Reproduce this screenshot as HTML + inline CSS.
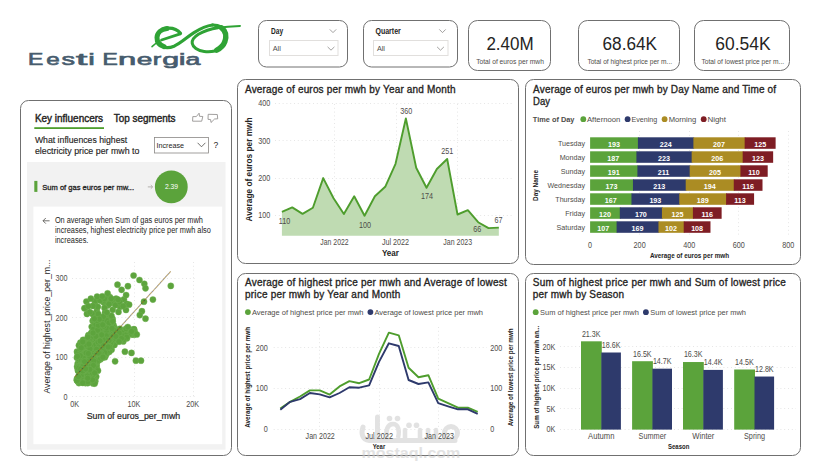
<!DOCTYPE html>
<html><head><meta charset="utf-8"><title>Eesti Energia Dashboard</title>
<style>
html,body{margin:0;padding:0;background:#fff;}
body{width:821px;height:470px;overflow:hidden;position:relative;font-family:"Liberation Sans",sans-serif;}
svg{position:absolute;left:0;top:0;display:block;font-family:"Liberation Sans",sans-serif;}
</style></head>
<body>
<svg width="821" height="470" viewBox="0 0 821 470">
<g fill="#475c6e" stroke="#475c6e" stroke-width="0.65">
<text transform="translate(28.09,64.7) scale(1.466,1)" x="0" y="0" font-size="15.6">E</text>
<text transform="translate(46.13,64.7) scale(1.424,1)" x="0" y="0" font-size="17.0">e</text>
<text transform="translate(61.61,64.7) scale(1.590,1)" x="0" y="0" font-size="17.0">s</text>
<text transform="translate(76.11,64.7) scale(2.390,1)" x="0" y="0" font-size="17.0">t</text>
<text transform="translate(88.20,64.7) scale(1.739,1)" x="0" y="0" font-size="17.0">i</text>
<text transform="translate(102.59,64.7) scale(1.466,1)" x="0" y="0" font-size="15.6">E</text>
<text transform="translate(118.08,64.7) scale(1.932,1)" x="0" y="0" font-size="17.0">n</text>
<text transform="translate(136.86,64.7) scale(1.652,1)" x="0" y="0" font-size="17.0">e</text>
<text transform="translate(152.67,64.7) scale(1.496,1)" x="0" y="0" font-size="17.0">r</text>
<text transform="translate(162.31,64.7) scale(1.786,1)" x="0" y="0" font-size="17.0">g</text>
<text transform="translate(178.83,64.7) scale(1.804,1)" x="0" y="0" font-size="17.0">i</text>
<text transform="translate(185.41,64.7) scale(1.576,1)" x="0" y="0" font-size="17.0">a</text>
</g>
<g fill="none" stroke="#2fa335" stroke-linecap="round" stroke-linejoin="round">
<path d="M167,28.6 C161,29.2 157.2,33 157,37.5 C156.9,41.8 159.5,45.2 164,46.6" stroke-width="5"/>
<path d="M165,28.4 C171.5,27.4 177.5,29.6 180.4,33.4" stroke-width="3.4"/>
<path d="M161.5,40 L180.2,33.8" stroke-width="2.8"/>
<path d="M160.5,45.2 C164,48 169,48.2 174,46.2 C181,43.2 187,37 194,32.6 C200,28.8 206,25.8 212.5,25" stroke-width="3.2"/>
<path d="M152,46.6 C154,44.6 156.5,42.8 159.8,41.2" stroke-width="1.5"/>
<path d="M212.3,25 C218.5,24.8 223.5,27.5 225.4,32 C227.3,37.5 225.2,44.2 220.2,48.2 C216.2,51.2 210.2,52.2 204.2,51.5 C197.4,50.7 192.8,47.2 192.2,43.2 C191.7,39.7 194.4,36.7 198.4,34.2 C204.4,30.8 211.2,28.8 218,27.7" stroke-width="3"/>
<path d="M221.6,27.8 C225.8,31 226.6,36.4 224.8,41.8 C223.4,45.6 220.8,48.1 216.8,50.1" stroke-width="5.4"/>
<path d="M217,27.8 C224,26.9 231,26.3 240,25.9" stroke-width="2"/>
</g>
<rect x="258.5" y="20.5" width="89" height="46.5" rx="8" ry="8" fill="#fff" stroke="#707070" stroke-width="1"/>
<text x="271.10" y="34.10" font-size="8.2" font-weight="bold" textLength="12.10" lengthAdjust="spacingAndGlyphs" fill="#252423">Day</text>
<polyline points="329.8,29.4 333.0,32.6 336.2,29.4" fill="none" stroke="#8a8886" stroke-width="0.8"/>
<rect x="269.5" y="40.5" width="68.5" height="15" fill="#fff" stroke="#e1dfdd" stroke-width="1"/>
<text x="272.70" y="51.30" font-size="7.5" textLength="8.10" lengthAdjust="spacingAndGlyphs" fill="#4e4c49">All</text>
<polyline points="327.6,46.9 331.0,50.2 334.4,46.9" fill="none" stroke="#8a8886" stroke-width="0.8"/>
<rect x="363.5" y="20.5" width="94" height="46.5" rx="8" ry="8" fill="#fff" stroke="#707070" stroke-width="1"/>
<text x="375.50" y="34.10" font-size="8.2" font-weight="bold" textLength="25.30" lengthAdjust="spacingAndGlyphs" fill="#252423">Quarter</text>
<polyline points="439.3,29.4 442.5,32.6 445.7,29.4" fill="none" stroke="#8a8886" stroke-width="0.8"/>
<rect x="373.5" y="40.5" width="74.5" height="15" fill="#fff" stroke="#e1dfdd" stroke-width="1"/>
<text x="376.90" y="51.30" font-size="7.5" textLength="8.10" lengthAdjust="spacingAndGlyphs" fill="#4e4c49">All</text>
<polyline points="437.1,46.9 440.5,50.2 443.9,46.9" fill="none" stroke="#8a8886" stroke-width="0.8"/>
<rect x="468.5" y="20.5" width="82" height="50" rx="9" ry="9" fill="#fff" stroke="#707070" stroke-width="1"/>
<text x="486.4" y="49.8" font-size="18.9" fill="#252423" textLength="47.3" lengthAdjust="spacingAndGlyphs">2.40M</text>
<text x="476.2" y="64" font-size="6.7" fill="#4e4c49" textLength="67.7" lengthAdjust="spacingAndGlyphs">Total of euros per mwh</text>
<rect x="578.5" y="20.5" width="101" height="50" rx="9" ry="9" fill="#fff" stroke="#707070" stroke-width="1"/>
<text x="602.5" y="49.8" font-size="18.9" fill="#252423" textLength="54.5" lengthAdjust="spacingAndGlyphs">68.64K</text>
<text x="587.4" y="64" font-size="6.7" fill="#4e4c49" textLength="84.7" lengthAdjust="spacingAndGlyphs">Total of highest price per m...</text>
<rect x="694.5" y="20.5" width="95" height="50" rx="9" ry="9" fill="#fff" stroke="#707070" stroke-width="1"/>
<text x="715.2" y="49.8" font-size="18.9" fill="#252423" textLength="55.4" lengthAdjust="spacingAndGlyphs">60.54K</text>
<text x="701.5" y="64" font-size="6.7" fill="#4e4c49" textLength="82.6" lengthAdjust="spacingAndGlyphs">Total of lowest price per m...</text>
<rect x="20.5" y="100.5" width="211" height="355" rx="8" ry="8" fill="#fff" stroke="#707070" stroke-width="1"/>
<text x="34.90" y="121.80" font-size="10" stroke="#252423" stroke-width="0.4" textLength="68.10" lengthAdjust="spacingAndGlyphs" fill="#252423">Key influencers</text>
<rect x="34.3" y="127.2" width="69.7" height="1.8" fill="#4e9d2d"/>
<text x="113.80" y="121.80" font-size="10" stroke="#252423" stroke-width="0.4" textLength="61.80" lengthAdjust="spacingAndGlyphs" fill="#252423">Top segments</text>
<g fill="none" stroke="#8a8886" stroke-width="0.8" stroke-linejoin="round">
<path d="M192.6,121.2 L192.8,116.6 L196.3,116.6 L199.1,113.2 L199.5,116.3 L202.8,116.5 L201.7,121.2 Z"/>
<path d="M208.2,114.3 L217.3,114.5 L217.7,118.8 L214.6,119.0 L211.0,122.5 L210.6,119.6 L208.0,119.3 Z"/>
</g>
<text x="34.90" y="142.70" font-size="9.6" stroke="#252423" stroke-width="0.15" textLength="92.40" lengthAdjust="spacingAndGlyphs" fill="#252423">What influences highest</text>
<text x="34.90" y="154.10" font-size="9.6" stroke="#252423" stroke-width="0.15" textLength="104.50" lengthAdjust="spacingAndGlyphs" fill="#252423">electricity price per mwh to</text>
<rect x="154.5" y="137.5" width="54" height="15.5" fill="#fff" stroke="#8a8886" stroke-width="0.8"/>
<text x="156.40" y="148.00" font-size="7.8" textLength="27.70" lengthAdjust="spacingAndGlyphs" fill="#252423">Increase</text>
<polyline points="197.6,142.8 201.5,146.8 205.4,142.8" fill="none" stroke="#4e4c49" stroke-width="0.8"/>
<text x="213.60" y="148.30" font-size="8.5" fill="#252423">?</text>
<rect x="27" y="162" width="198.5" height="287.7" fill="#f2f2f2"/>
<rect x="34.3" y="180.9" width="3.1" height="11" fill="#5ba33b"/>
<text x="42.30" y="189.80" font-size="7.6" stroke="#252423" stroke-width="0.3" textLength="91.70" lengthAdjust="spacingAndGlyphs" fill="#252423">Sum of gas euros per mw...</text>
<path d="M147.8,186.9 h4.5 M150.8,185.1 l1.9,1.8 l-1.9,1.8" fill="none" stroke="#b3b0ad" stroke-width="1"/>
<circle cx="171.3" cy="186.9" r="16.4" fill="#5ba33b"/>
<text x="171.50" y="189.40" font-size="7.2" text-anchor="middle" textLength="13.20" lengthAdjust="spacingAndGlyphs" fill="#ffffff">2.39</text>
<rect x="33.4" y="206.6" width="188.8" height="237.6" fill="#fff"/>
<path d="M49.6,220.8 h-6.6 M45.8,218 l-2.8,2.8 l2.8,2.8" fill="none" stroke="#4e4c49" stroke-width="0.8"/>
<text x="54.90" y="223.40" font-size="8.3" textLength="148.00" lengthAdjust="spacingAndGlyphs" fill="#252423">On average when Sum of gas euros per mwh</text>
<text x="54.90" y="233.00" font-size="8.3" textLength="156.00" lengthAdjust="spacingAndGlyphs" fill="#252423">increases, highest electricity price per mwh also</text>
<text x="54.90" y="242.80" font-size="8.3" textLength="33.52" lengthAdjust="spacingAndGlyphs" fill="#252423">increases.</text>
<line x1="72" y1="278.5" x2="196" y2="278.5" stroke="#e6e6e6" stroke-width="1" stroke-dasharray="1,2.8"/>
<text x="67.50" y="280.80" font-size="8.2" text-anchor="end" textLength="12.04" lengthAdjust="spacingAndGlyphs" fill="#4e4c49">300</text>
<line x1="72" y1="317.5" x2="196" y2="317.5" stroke="#e6e6e6" stroke-width="1" stroke-dasharray="1,2.8"/>
<text x="67.50" y="320.60" font-size="8.2" text-anchor="end" textLength="12.04" lengthAdjust="spacingAndGlyphs" fill="#4e4c49">200</text>
<line x1="72" y1="357.5" x2="196" y2="357.5" stroke="#e6e6e6" stroke-width="1" stroke-dasharray="1,2.8"/>
<text x="67.50" y="360.00" font-size="8.2" text-anchor="end" textLength="12.04" lengthAdjust="spacingAndGlyphs" fill="#4e4c49">100</text>
<line x1="72" y1="396.5" x2="196" y2="396.5" stroke="#e6e6e6" stroke-width="1" stroke-dasharray="1,2.8"/>
<text x="67.50" y="399.70" font-size="8.2" text-anchor="end" textLength="4.01" lengthAdjust="spacingAndGlyphs" fill="#4e4c49">0</text>
<line x1="134.5" y1="262" x2="134.5" y2="397" stroke="#e6e6e6" stroke-width="1" stroke-dasharray="1,2.8"/>
<line x1="193.5" y1="262" x2="193.5" y2="397" stroke="#e6e6e6" stroke-width="1" stroke-dasharray="1,2.8"/>
<text x="74.60" y="407.30" font-size="8.2" text-anchor="middle" textLength="8.83" lengthAdjust="spacingAndGlyphs" fill="#4e4c49">0K</text>
<text x="134.00" y="407.30" font-size="8.2" text-anchor="middle" textLength="12.84" lengthAdjust="spacingAndGlyphs" fill="#4e4c49">10K</text>
<text x="192.70" y="407.30" font-size="8.2" text-anchor="middle" textLength="12.84" lengthAdjust="spacingAndGlyphs" fill="#4e4c49">20K</text>
<text x="133.40" y="418.70" font-size="9.3" stroke="#252423" stroke-width="0.2" text-anchor="middle" textLength="93.50" lengthAdjust="spacingAndGlyphs" fill="#252423">Sum of euros_per_mwh</text>
<text transform="translate(49.99,326.60) rotate(-90)" x="0" y="0" font-size="9.3" textLength="134.00" lengthAdjust="spacingAndGlyphs" text-anchor="middle" fill="#252423">Average of highest_price_per_m...</text>
<g fill="#5da43d" stroke="#74b257" stroke-width="0.4">
<circle cx="102.8" cy="344.9" r="3.1"/>
<circle cx="106.5" cy="347.6" r="3.1"/>
<circle cx="84.6" cy="340.2" r="3.1"/>
<circle cx="78.2" cy="369.3" r="3.1"/>
<circle cx="107.3" cy="352.7" r="3.1"/>
<circle cx="106.0" cy="354.9" r="3.1"/>
<circle cx="103.1" cy="317.3" r="3.1"/>
<circle cx="77.0" cy="351.7" r="3.1"/>
<circle cx="84.1" cy="344.8" r="3.1"/>
<circle cx="80.9" cy="353.1" r="3.1"/>
<circle cx="94.4" cy="319.0" r="3.1"/>
<circle cx="88.5" cy="348.9" r="3.1"/>
<circle cx="97.3" cy="334.4" r="3.1"/>
<circle cx="85.4" cy="383.1" r="3.1"/>
<circle cx="89.5" cy="370.7" r="3.1"/>
<circle cx="112.6" cy="318.8" r="3.1"/>
<circle cx="83.9" cy="360.6" r="3.1"/>
<circle cx="91.1" cy="379.9" r="3.1"/>
<circle cx="97.1" cy="346.1" r="3.1"/>
<circle cx="95.9" cy="357.1" r="3.1"/>
<circle cx="114.5" cy="327.5" r="3.1"/>
<circle cx="111.6" cy="349.7" r="3.1"/>
<circle cx="77.5" cy="352.7" r="3.1"/>
<circle cx="77.7" cy="363.5" r="3.1"/>
<circle cx="105.8" cy="350.2" r="3.1"/>
<circle cx="92.5" cy="356.5" r="3.1"/>
<circle cx="116.9" cy="333.3" r="3.1"/>
<circle cx="111.7" cy="321.0" r="3.1"/>
<circle cx="114.5" cy="338.4" r="3.1"/>
<circle cx="93.4" cy="372.2" r="3.1"/>
<circle cx="110.8" cy="320.3" r="3.1"/>
<circle cx="114.8" cy="333.8" r="3.1"/>
<circle cx="95.5" cy="358.3" r="3.1"/>
<circle cx="107.4" cy="350.2" r="3.1"/>
<circle cx="77.9" cy="381.4" r="3.1"/>
<circle cx="97.6" cy="345.7" r="3.1"/>
<circle cx="93.8" cy="379.2" r="3.1"/>
<circle cx="107.8" cy="318.4" r="3.1"/>
<circle cx="110.1" cy="320.5" r="3.1"/>
<circle cx="106.2" cy="349.3" r="3.1"/>
<circle cx="107.1" cy="329.3" r="3.1"/>
<circle cx="104.4" cy="321.1" r="3.1"/>
<circle cx="85.0" cy="350.6" r="3.1"/>
<circle cx="96.2" cy="350.7" r="3.1"/>
<circle cx="79.1" cy="361.6" r="3.1"/>
<circle cx="101.7" cy="326.8" r="3.1"/>
<circle cx="100.1" cy="341.9" r="3.1"/>
<circle cx="115.4" cy="341.9" r="3.1"/>
<circle cx="93.5" cy="320.9" r="3.1"/>
<circle cx="107.0" cy="345.7" r="3.1"/>
<circle cx="103.8" cy="340.5" r="3.1"/>
<circle cx="101.2" cy="348.9" r="3.1"/>
<circle cx="99.5" cy="348.8" r="3.1"/>
<circle cx="87.8" cy="382.6" r="3.1"/>
<circle cx="108.2" cy="328.2" r="3.1"/>
<circle cx="109.4" cy="339.8" r="3.1"/>
<circle cx="100.6" cy="341.6" r="3.1"/>
<circle cx="112.7" cy="325.8" r="3.1"/>
<circle cx="91.4" cy="354.2" r="3.1"/>
<circle cx="101.2" cy="336.8" r="3.1"/>
<circle cx="79.8" cy="351.2" r="3.1"/>
<circle cx="117.4" cy="334.6" r="3.1"/>
<circle cx="89.8" cy="347.1" r="3.1"/>
<circle cx="110.4" cy="348.0" r="3.1"/>
<circle cx="100.9" cy="351.1" r="3.1"/>
<circle cx="109.4" cy="351.8" r="3.1"/>
<circle cx="97.4" cy="336.9" r="3.1"/>
<circle cx="89.5" cy="369.4" r="3.1"/>
<circle cx="97.1" cy="354.1" r="3.1"/>
<circle cx="105.0" cy="357.2" r="3.1"/>
<circle cx="92.3" cy="366.0" r="3.1"/>
<circle cx="80.0" cy="359.5" r="3.1"/>
<circle cx="92.7" cy="321.1" r="3.1"/>
<circle cx="96.9" cy="325.6" r="3.1"/>
<circle cx="98.9" cy="328.0" r="3.1"/>
<circle cx="85.3" cy="345.3" r="3.1"/>
<circle cx="84.0" cy="364.4" r="3.1"/>
<circle cx="107.1" cy="343.3" r="3.1"/>
<circle cx="77.8" cy="352.1" r="3.1"/>
<circle cx="81.8" cy="363.1" r="3.1"/>
<circle cx="117.7" cy="338.4" r="3.1"/>
<circle cx="115.5" cy="341.3" r="3.1"/>
<circle cx="100.7" cy="331.2" r="3.1"/>
<circle cx="81.9" cy="362.6" r="3.1"/>
<circle cx="79.8" cy="353.5" r="3.1"/>
<circle cx="103.2" cy="347.2" r="3.1"/>
<circle cx="83.7" cy="364.2" r="3.1"/>
<circle cx="93.2" cy="343.7" r="3.1"/>
<circle cx="89.7" cy="377.0" r="3.1"/>
<circle cx="98.2" cy="341.7" r="3.1"/>
<circle cx="107.1" cy="316.9" r="3.1"/>
<circle cx="104.1" cy="326.4" r="3.1"/>
<circle cx="93.9" cy="315.4" r="3.1"/>
<circle cx="107.1" cy="352.4" r="3.1"/>
<circle cx="82.2" cy="365.5" r="3.1"/>
<circle cx="92.6" cy="367.4" r="3.1"/>
<circle cx="78.2" cy="371.0" r="3.1"/>
<circle cx="86.2" cy="343.3" r="3.1"/>
<circle cx="107.7" cy="305.4" r="3.1"/>
<circle cx="93.2" cy="320.5" r="3.1"/>
<circle cx="96.5" cy="357.3" r="3.1"/>
<circle cx="91.7" cy="326.8" r="3.1"/>
<circle cx="108.7" cy="319.2" r="3.1"/>
<circle cx="94.9" cy="328.4" r="3.1"/>
<circle cx="78.4" cy="356.4" r="3.1"/>
<circle cx="76.9" cy="380.2" r="3.1"/>
<circle cx="101.0" cy="340.1" r="3.1"/>
<circle cx="94.5" cy="330.4" r="3.1"/>
<circle cx="95.3" cy="353.8" r="3.1"/>
<circle cx="82.8" cy="365.1" r="3.1"/>
<circle cx="96.0" cy="339.0" r="3.1"/>
<circle cx="81.6" cy="359.9" r="3.1"/>
<circle cx="85.4" cy="382.6" r="3.1"/>
<circle cx="88.6" cy="346.5" r="3.1"/>
<circle cx="103.5" cy="302.2" r="3.1"/>
<circle cx="81.2" cy="378.6" r="3.1"/>
<circle cx="109.0" cy="345.0" r="3.1"/>
<circle cx="110.1" cy="315.9" r="3.1"/>
<circle cx="112.9" cy="302.0" r="3.1"/>
<circle cx="91.6" cy="377.9" r="3.1"/>
<circle cx="88.4" cy="346.2" r="3.1"/>
<circle cx="98.0" cy="348.0" r="3.1"/>
<circle cx="89.9" cy="345.7" r="3.1"/>
<circle cx="94.6" cy="352.9" r="3.1"/>
<circle cx="112.8" cy="336.1" r="3.1"/>
<circle cx="100.0" cy="351.1" r="3.1"/>
<circle cx="101.5" cy="345.5" r="3.1"/>
<circle cx="107.7" cy="332.4" r="3.1"/>
<circle cx="92.7" cy="348.2" r="3.1"/>
<circle cx="106.2" cy="328.9" r="3.1"/>
<circle cx="87.1" cy="363.2" r="3.1"/>
<circle cx="78.7" cy="367.7" r="3.1"/>
<circle cx="80.4" cy="342.7" r="3.1"/>
<circle cx="96.2" cy="347.4" r="3.1"/>
<circle cx="92.9" cy="338.8" r="3.1"/>
<circle cx="85.3" cy="372.1" r="3.1"/>
<circle cx="96.1" cy="336.3" r="3.1"/>
<circle cx="83.7" cy="376.2" r="3.1"/>
<circle cx="85.0" cy="376.3" r="3.1"/>
<circle cx="93.3" cy="378.2" r="3.1"/>
<circle cx="81.2" cy="358.2" r="3.1"/>
<circle cx="88.0" cy="355.1" r="3.1"/>
<circle cx="90.8" cy="352.7" r="3.1"/>
<circle cx="101.9" cy="341.8" r="3.1"/>
<circle cx="84.7" cy="377.9" r="3.1"/>
<circle cx="84.2" cy="344.5" r="3.1"/>
<circle cx="107.1" cy="339.6" r="3.1"/>
<circle cx="83.8" cy="366.4" r="3.1"/>
<circle cx="83.2" cy="349.6" r="3.1"/>
<circle cx="87.0" cy="346.8" r="3.1"/>
<circle cx="101.6" cy="333.3" r="3.1"/>
<circle cx="89.9" cy="368.3" r="3.1"/>
<circle cx="76.9" cy="378.9" r="3.1"/>
<circle cx="110.7" cy="343.2" r="3.1"/>
<circle cx="114.2" cy="341.5" r="3.1"/>
<circle cx="90.0" cy="347.7" r="3.1"/>
<circle cx="78.0" cy="370.4" r="3.1"/>
<circle cx="96.8" cy="311.2" r="3.1"/>
<circle cx="92.3" cy="331.6" r="3.1"/>
<circle cx="88.4" cy="335.2" r="3.1"/>
<circle cx="103.5" cy="328.5" r="3.1"/>
<circle cx="84.5" cy="343.9" r="3.1"/>
<circle cx="103.8" cy="320.2" r="3.1"/>
<circle cx="76.9" cy="357.8" r="3.1"/>
<circle cx="82.4" cy="381.8" r="3.1"/>
<circle cx="96.5" cy="365.0" r="3.1"/>
<circle cx="94.1" cy="365.5" r="3.1"/>
<circle cx="100.8" cy="343.3" r="3.1"/>
<circle cx="81.2" cy="359.2" r="3.1"/>
<circle cx="89.7" cy="361.1" r="3.1"/>
<circle cx="91.1" cy="359.9" r="3.1"/>
<circle cx="99.6" cy="327.9" r="3.1"/>
<circle cx="86.7" cy="357.5" r="3.1"/>
<circle cx="94.3" cy="338.7" r="3.1"/>
<circle cx="111.8" cy="336.0" r="3.1"/>
<circle cx="95.6" cy="377.4" r="3.1"/>
<circle cx="96.7" cy="346.5" r="3.1"/>
<circle cx="99.9" cy="330.7" r="3.1"/>
<circle cx="90.8" cy="371.3" r="3.1"/>
<circle cx="106.5" cy="320.2" r="3.1"/>
<circle cx="109.0" cy="328.6" r="3.1"/>
<circle cx="88.3" cy="338.4" r="3.1"/>
<circle cx="114.5" cy="345.0" r="3.1"/>
<circle cx="94.7" cy="324.0" r="3.1"/>
<circle cx="105.4" cy="345.3" r="3.1"/>
<circle cx="79.0" cy="359.1" r="3.1"/>
<circle cx="83.1" cy="374.9" r="3.1"/>
<circle cx="98.7" cy="360.2" r="3.1"/>
<circle cx="89.1" cy="360.1" r="3.1"/>
<circle cx="94.2" cy="322.7" r="3.1"/>
<circle cx="100.6" cy="359.3" r="3.1"/>
<circle cx="81.1" cy="357.4" r="3.1"/>
<circle cx="100.5" cy="351.9" r="3.1"/>
<circle cx="104.8" cy="326.6" r="3.1"/>
<circle cx="93.0" cy="368.4" r="3.1"/>
<circle cx="79.3" cy="381.5" r="3.1"/>
<circle cx="89.1" cy="337.9" r="3.1"/>
<circle cx="81.8" cy="351.3" r="3.1"/>
<circle cx="85.7" cy="375.0" r="3.1"/>
<circle cx="104.9" cy="330.6" r="3.1"/>
<circle cx="90.8" cy="382.0" r="3.1"/>
<circle cx="96.4" cy="363.8" r="3.1"/>
<circle cx="93.1" cy="340.4" r="3.1"/>
<circle cx="78.9" cy="383.1" r="3.1"/>
<circle cx="99.4" cy="359.1" r="3.1"/>
<circle cx="89.0" cy="379.1" r="3.1"/>
<circle cx="97.1" cy="354.4" r="3.1"/>
<circle cx="91.0" cy="378.7" r="3.1"/>
<circle cx="95.8" cy="332.2" r="3.1"/>
<circle cx="99.4" cy="321.5" r="3.1"/>
<circle cx="85.9" cy="376.3" r="3.1"/>
<circle cx="93.8" cy="363.9" r="3.1"/>
<circle cx="97.7" cy="353.1" r="3.1"/>
<circle cx="86.4" cy="350.4" r="3.1"/>
<circle cx="114.7" cy="339.5" r="3.1"/>
<circle cx="110.6" cy="301.2" r="3.1"/>
<circle cx="118.9" cy="334.4" r="3.1"/>
<circle cx="117.3" cy="331.1" r="3.1"/>
<circle cx="110.9" cy="340.5" r="3.1"/>
<circle cx="102.4" cy="348.1" r="3.1"/>
<circle cx="93.3" cy="362.2" r="3.1"/>
<circle cx="105.4" cy="312.9" r="3.1"/>
<circle cx="102.9" cy="342.6" r="3.1"/>
<circle cx="88.4" cy="368.4" r="3.1"/>
<circle cx="86.1" cy="351.7" r="3.1"/>
<circle cx="85.4" cy="355.5" r="3.1"/>
<circle cx="93.4" cy="351.7" r="3.1"/>
<circle cx="90.9" cy="349.1" r="3.1"/>
<circle cx="119.2" cy="335.7" r="3.1"/>
<circle cx="113.5" cy="325.0" r="3.1"/>
<circle cx="96.5" cy="320.4" r="3.1"/>
<circle cx="99.8" cy="334.8" r="3.1"/>
<circle cx="95.6" cy="359.0" r="3.1"/>
<circle cx="88.0" cy="346.8" r="3.1"/>
<circle cx="91.4" cy="375.5" r="3.1"/>
<circle cx="91.5" cy="373.7" r="3.1"/>
<circle cx="118.0" cy="334.6" r="3.1"/>
<circle cx="91.1" cy="333.2" r="3.1"/>
<circle cx="81.0" cy="377.7" r="3.1"/>
<circle cx="95.2" cy="370.4" r="3.1"/>
<circle cx="109.1" cy="299.7" r="3.1"/>
<circle cx="97.5" cy="360.9" r="3.1"/>
<circle cx="103.9" cy="325.5" r="3.1"/>
<circle cx="103.6" cy="321.0" r="3.1"/>
<circle cx="99.3" cy="354.3" r="3.1"/>
<circle cx="108.4" cy="342.3" r="3.1"/>
<circle cx="79.6" cy="367.3" r="3.1"/>
<circle cx="92.5" cy="339.7" r="3.1"/>
<circle cx="80.5" cy="345.7" r="3.1"/>
<circle cx="92.0" cy="366.2" r="3.1"/>
<circle cx="110.0" cy="335.0" r="3.1"/>
<circle cx="107.7" cy="329.8" r="3.1"/>
<circle cx="82.6" cy="342.0" r="3.1"/>
<circle cx="105.3" cy="354.1" r="3.1"/>
<circle cx="110.6" cy="339.1" r="3.1"/>
<circle cx="92.4" cy="362.5" r="3.1"/>
<circle cx="101.2" cy="336.7" r="3.1"/>
<circle cx="96.4" cy="332.2" r="3.1"/>
<circle cx="109.2" cy="329.2" r="3.1"/>
<circle cx="93.4" cy="337.4" r="3.1"/>
<circle cx="87.7" cy="363.4" r="3.1"/>
<circle cx="112.7" cy="326.2" r="3.1"/>
<circle cx="92.5" cy="349.7" r="3.1"/>
<circle cx="112.1" cy="320.9" r="3.1"/>
<circle cx="105.8" cy="340.6" r="3.1"/>
<circle cx="99.4" cy="318.0" r="3.1"/>
<circle cx="93.6" cy="370.3" r="3.1"/>
<circle cx="100.4" cy="356.6" r="3.1"/>
<circle cx="77.1" cy="366.6" r="3.1"/>
<circle cx="97.7" cy="333.9" r="3.1"/>
<circle cx="93.1" cy="383.5" r="3.1"/>
<circle cx="80.4" cy="375.6" r="3.1"/>
<circle cx="97.7" cy="356.1" r="3.1"/>
<circle cx="83.3" cy="347.4" r="3.1"/>
<circle cx="112.2" cy="341.0" r="3.1"/>
<circle cx="98.4" cy="346.3" r="3.1"/>
<circle cx="111.7" cy="337.1" r="3.1"/>
<circle cx="97.7" cy="360.2" r="3.1"/>
<circle cx="101.4" cy="350.5" r="3.1"/>
<circle cx="133.9" cy="334.7" r="3.1"/>
<circle cx="105.1" cy="312.7" r="3.1"/>
<circle cx="110.6" cy="344.0" r="3.1"/>
<circle cx="94.6" cy="304.9" r="3.1"/>
<circle cx="78.6" cy="366.8" r="3.1"/>
<circle cx="113.5" cy="301.8" r="3.1"/>
<circle cx="82.9" cy="374.2" r="3.1"/>
<circle cx="96.7" cy="367.2" r="3.1"/>
<circle cx="97.2" cy="361.5" r="3.1"/>
<circle cx="110.5" cy="324.2" r="3.1"/>
<circle cx="87.8" cy="383.1" r="3.1"/>
<circle cx="79.5" cy="382.2" r="3.1"/>
<circle cx="78.9" cy="345.4" r="3.1"/>
<circle cx="93.0" cy="375.5" r="3.1"/>
<circle cx="84.6" cy="341.6" r="3.1"/>
<circle cx="96.1" cy="338.9" r="3.1"/>
<circle cx="85.4" cy="359.1" r="3.1"/>
<circle cx="100.4" cy="337.6" r="3.1"/>
<circle cx="94.8" cy="358.8" r="3.1"/>
<circle cx="94.8" cy="324.0" r="3.1"/>
<circle cx="89.8" cy="347.4" r="3.1"/>
<circle cx="107.8" cy="322.9" r="3.1"/>
<circle cx="117.9" cy="334.6" r="3.1"/>
<circle cx="87.9" cy="376.4" r="3.1"/>
<circle cx="89.7" cy="341.2" r="3.1"/>
<circle cx="89.3" cy="375.9" r="3.1"/>
<circle cx="94.4" cy="361.2" r="3.1"/>
<circle cx="108.7" cy="297.7" r="3.1"/>
<circle cx="81.2" cy="367.4" r="3.1"/>
<circle cx="91.5" cy="348.1" r="3.1"/>
<circle cx="95.3" cy="381.2" r="3.1"/>
<circle cx="81.6" cy="360.0" r="3.1"/>
<circle cx="102.9" cy="326.5" r="3.1"/>
<circle cx="108.7" cy="345.6" r="3.1"/>
<circle cx="110.7" cy="318.9" r="3.1"/>
<circle cx="103.3" cy="349.1" r="3.1"/>
<circle cx="85.0" cy="382.5" r="3.1"/>
<circle cx="83.8" cy="362.2" r="3.1"/>
<circle cx="116.4" cy="335.6" r="3.1"/>
<circle cx="97.1" cy="336.3" r="3.1"/>
<circle cx="96.2" cy="376.6" r="3.1"/>
<circle cx="111.5" cy="330.9" r="3.1"/>
<circle cx="108.7" cy="335.1" r="3.1"/>
<circle cx="94.6" cy="379.5" r="3.1"/>
<circle cx="87.9" cy="381.7" r="3.1"/>
<circle cx="83.1" cy="339.9" r="3.1"/>
<circle cx="83.6" cy="360.9" r="3.1"/>
<circle cx="88.0" cy="347.2" r="3.1"/>
<circle cx="82.7" cy="382.9" r="3.1"/>
<circle cx="95.6" cy="344.8" r="3.1"/>
<circle cx="107.0" cy="327.1" r="3.1"/>
<circle cx="90.3" cy="346.3" r="3.1"/>
<circle cx="115.0" cy="335.3" r="3.1"/>
<circle cx="104.8" cy="352.8" r="3.1"/>
<circle cx="77.8" cy="368.4" r="3.1"/>
<circle cx="87.9" cy="371.2" r="3.1"/>
<circle cx="106.3" cy="331.8" r="3.1"/>
<circle cx="105.3" cy="337.3" r="3.1"/>
<circle cx="91.8" cy="372.4" r="3.1"/>
<circle cx="106.2" cy="323.6" r="3.1"/>
<circle cx="84.0" cy="369.8" r="3.1"/>
<circle cx="95.3" cy="367.6" r="3.1"/>
<circle cx="84.6" cy="358.0" r="3.1"/>
<circle cx="105.5" cy="327.7" r="3.1"/>
<circle cx="107.1" cy="321.0" r="3.1"/>
<circle cx="94.5" cy="380.9" r="3.1"/>
<circle cx="108.4" cy="336.4" r="3.1"/>
<circle cx="115.5" cy="330.6" r="3.1"/>
<circle cx="89.1" cy="343.0" r="3.1"/>
<circle cx="84.9" cy="365.1" r="3.1"/>
<circle cx="90.5" cy="360.5" r="3.1"/>
<circle cx="120.0" cy="334.7" r="3.1"/>
<circle cx="119.2" cy="332.9" r="3.1"/>
<circle cx="99.4" cy="353.7" r="3.1"/>
<circle cx="103.9" cy="300.3" r="3.1"/>
<circle cx="112.0" cy="320.9" r="3.1"/>
<circle cx="87.0" cy="374.8" r="3.1"/>
<circle cx="106.6" cy="330.2" r="3.1"/>
<circle cx="89.5" cy="367.5" r="3.1"/>
<circle cx="120.1" cy="333.9" r="3.1"/>
<circle cx="96.9" cy="332.8" r="3.1"/>
<circle cx="102.8" cy="320.9" r="3.1"/>
<circle cx="114.4" cy="330.3" r="3.1"/>
<circle cx="92.7" cy="365.7" r="3.1"/>
<circle cx="102.9" cy="336.4" r="3.1"/>
<circle cx="131.8" cy="334.6" r="3.1"/>
<circle cx="99.3" cy="355.8" r="3.1"/>
<circle cx="101.6" cy="354.0" r="3.1"/>
<circle cx="87.4" cy="365.5" r="3.1"/>
<circle cx="95.2" cy="359.7" r="3.1"/>
<circle cx="98.6" cy="347.9" r="3.1"/>
<circle cx="89.1" cy="359.1" r="3.1"/>
<circle cx="110.2" cy="343.3" r="3.1"/>
<circle cx="94.1" cy="361.2" r="3.1"/>
<circle cx="107.9" cy="338.5" r="3.1"/>
<circle cx="83.4" cy="351.3" r="3.1"/>
<circle cx="91.7" cy="369.0" r="3.1"/>
<circle cx="103.3" cy="341.9" r="3.1"/>
<circle cx="77.8" cy="367.8" r="3.1"/>
<circle cx="93.3" cy="333.3" r="3.1"/>
<circle cx="95.2" cy="333.1" r="3.1"/>
<circle cx="87.6" cy="360.4" r="3.1"/>
<circle cx="108.9" cy="347.2" r="3.1"/>
<circle cx="103.8" cy="318.3" r="3.1"/>
<circle cx="110.2" cy="324.9" r="3.1"/>
<circle cx="106.8" cy="320.6" r="3.1"/>
<circle cx="100.1" cy="328.2" r="3.1"/>
<circle cx="106.3" cy="335.9" r="3.1"/>
<circle cx="108.0" cy="342.2" r="3.1"/>
<circle cx="122.6" cy="334.6" r="3.1"/>
<circle cx="99.0" cy="344.2" r="3.1"/>
<circle cx="109.0" cy="340.5" r="3.1"/>
<circle cx="93.1" cy="374.5" r="3.1"/>
<circle cx="109.0" cy="323.0" r="3.1"/>
<circle cx="94.7" cy="383.6" r="3.1"/>
<circle cx="89.8" cy="369.8" r="3.1"/>
<circle cx="89.6" cy="371.1" r="3.1"/>
<circle cx="84.5" cy="352.2" r="3.1"/>
<circle cx="98.0" cy="370.7" r="3.1"/>
<circle cx="89.2" cy="360.1" r="3.1"/>
<circle cx="91.7" cy="372.8" r="3.1"/>
<circle cx="98.1" cy="360.3" r="3.1"/>
<circle cx="98.1" cy="342.0" r="3.1"/>
<circle cx="97.2" cy="322.3" r="3.1"/>
<circle cx="82.1" cy="348.1" r="3.1"/>
<circle cx="85.6" cy="352.8" r="3.1"/>
<circle cx="106.5" cy="328.0" r="3.1"/>
<circle cx="112.0" cy="328.4" r="3.1"/>
<circle cx="96.6" cy="349.3" r="3.1"/>
<circle cx="110.4" cy="302.9" r="3.1"/>
<circle cx="85.5" cy="344.6" r="3.1"/>
<circle cx="87.8" cy="337.2" r="3.1"/>
<circle cx="93.6" cy="329.0" r="3.1"/>
<circle cx="93.3" cy="362.7" r="3.1"/>
<circle cx="103.5" cy="357.2" r="3.1"/>
<circle cx="82.3" cy="366.7" r="3.1"/>
<circle cx="84.5" cy="361.6" r="3.1"/>
<circle cx="80.7" cy="349.1" r="3.1"/>
<circle cx="80.2" cy="355.8" r="3.1"/>
<circle cx="109.7" cy="347.0" r="3.1"/>
<circle cx="89.9" cy="348.9" r="3.1"/>
<circle cx="106.6" cy="340.0" r="3.1"/>
<circle cx="103.0" cy="339.6" r="3.1"/>
<circle cx="99.1" cy="337.0" r="3.1"/>
<circle cx="77.4" cy="356.4" r="3.1"/>
<circle cx="102.2" cy="318.9" r="3.1"/>
<circle cx="94.8" cy="304.1" r="3.1"/>
<circle cx="113.0" cy="336.1" r="3.1"/>
<circle cx="92.5" cy="379.9" r="3.1"/>
<circle cx="86.2" cy="353.0" r="3.1"/>
<circle cx="77.0" cy="380.5" r="3.1"/>
<circle cx="93.8" cy="360.9" r="3.1"/>
<circle cx="81.5" cy="343.5" r="3.1"/>
<circle cx="88.9" cy="344.1" r="3.1"/>
<circle cx="100.6" cy="358.3" r="3.1"/>
<circle cx="121.5" cy="335.4" r="3.1"/>
<circle cx="97.1" cy="307.3" r="3.1"/>
<circle cx="99.7" cy="353.5" r="3.1"/>
<circle cx="97.5" cy="330.2" r="3.1"/>
<circle cx="96.9" cy="353.4" r="3.1"/>
<circle cx="96.0" cy="324.5" r="3.1"/>
<circle cx="98.3" cy="353.0" r="3.1"/>
<circle cx="78.8" cy="368.3" r="3.1"/>
<circle cx="87.4" cy="376.0" r="3.1"/>
<circle cx="96.0" cy="336.4" r="3.1"/>
<circle cx="112.7" cy="321.3" r="3.1"/>
<circle cx="80.6" cy="369.2" r="3.1"/>
<circle cx="115.9" cy="336.4" r="3.1"/>
<circle cx="82.7" cy="341.9" r="3.1"/>
<circle cx="100.1" cy="340.5" r="3.1"/>
<circle cx="93.1" cy="333.0" r="3.1"/>
<circle cx="103.6" cy="345.3" r="3.1"/>
<circle cx="91.0" cy="366.3" r="3.1"/>
<circle cx="94.6" cy="372.9" r="3.1"/>
<circle cx="78.3" cy="376.6" r="3.1"/>
<circle cx="100.1" cy="341.0" r="3.1"/>
<circle cx="89.5" cy="356.2" r="3.1"/>
<circle cx="108.2" cy="347.0" r="3.1"/>
<circle cx="82.8" cy="370.9" r="3.1"/>
<circle cx="87.7" cy="378.2" r="3.1"/>
<circle cx="88.4" cy="353.5" r="3.1"/>
<circle cx="101.7" cy="334.8" r="3.1"/>
<circle cx="103.8" cy="326.3" r="3.1"/>
<circle cx="102.9" cy="357.2" r="3.1"/>
<circle cx="98.3" cy="325.2" r="3.1"/>
<circle cx="97.1" cy="320.5" r="3.1"/>
<circle cx="81.3" cy="347.9" r="3.1"/>
<circle cx="93.4" cy="365.4" r="3.1"/>
<circle cx="102.7" cy="324.8" r="3.1"/>
<circle cx="89.8" cy="369.4" r="3.1"/>
<circle cx="85.6" cy="368.9" r="3.1"/>
<circle cx="86.4" cy="301.5" r="3.1"/>
<circle cx="103.4" cy="316.5" r="3.1"/>
<circle cx="116.1" cy="298.7" r="3.1"/>
<circle cx="95.1" cy="301.2" r="3.1"/>
<circle cx="111.5" cy="315.9" r="3.1"/>
<circle cx="109.0" cy="304.2" r="3.1"/>
<circle cx="97.8" cy="306.8" r="3.1"/>
<circle cx="100.0" cy="300.6" r="3.1"/>
<circle cx="98.2" cy="314.0" r="3.1"/>
<circle cx="118.5" cy="311.9" r="3.1"/>
<circle cx="104.5" cy="307.9" r="3.1"/>
<circle cx="112.7" cy="309.8" r="3.1"/>
<circle cx="109.8" cy="297.0" r="3.1"/>
<circle cx="120.0" cy="306.7" r="3.1"/>
<circle cx="91.9" cy="313.5" r="3.1"/>
<circle cx="123.9" cy="299.4" r="3.1"/>
<circle cx="93.0" cy="305.9" r="3.1"/>
<circle cx="104.5" cy="298.7" r="3.1"/>
<circle cx="126.0" cy="310.0" r="3.1"/>
<circle cx="86.9" cy="313.9" r="3.1"/>
<circle cx="85.1" cy="308.0" r="3.1"/>
<circle cx="126.7" cy="303.9" r="3.1"/>
<circle cx="90.9" cy="298.7" r="3.1"/>
<circle cx="99.3" cy="319.1" r="3.1"/>
<circle cx="106.9" cy="312.4" r="3.1"/>
<circle cx="115.4" cy="305.2" r="3.1"/>
<circle cx="94.4" cy="318.8" r="3.1"/>
<circle cx="97.1" cy="296.6" r="3.1"/>
<circle cx="119.7" cy="301.9" r="3.1"/>
<circle cx="126.5" cy="335.0" r="3.1"/>
<circle cx="133.9" cy="329.2" r="3.1"/>
<circle cx="130.3" cy="333.9" r="3.1"/>
<circle cx="130.3" cy="329.6" r="3.1"/>
<circle cx="121.5" cy="330.0" r="3.1"/>
<circle cx="132.4" cy="333.2" r="3.1"/>
<circle cx="132.1" cy="331.0" r="3.1"/>
<circle cx="124.9" cy="330.6" r="3.1"/>
<circle cx="122.7" cy="331.3" r="3.1"/>
<circle cx="119.8" cy="328.8" r="3.1"/>
<circle cx="134.1" cy="329.5" r="3.1"/>
<circle cx="134.5" cy="331.5" r="3.1"/>
<circle cx="134.9" cy="333.1" r="3.1"/>
<circle cx="122.7" cy="332.9" r="3.1"/>
<circle cx="130.6" cy="333.2" r="3.1"/>
<circle cx="126.1" cy="328.7" r="3.1"/>
<circle cx="127.8" cy="327.0" r="3.1"/>
<circle cx="125.7" cy="335.2" r="3.1"/>
<circle cx="127.0" cy="338.3" r="3.1"/>
<circle cx="116.0" cy="338.7" r="3.1"/>
<circle cx="121.5" cy="335.2" r="3.1"/>
<circle cx="119.0" cy="334.1" r="3.1"/>
<circle cx="123.3" cy="341.5" r="3.1"/>
<circle cx="126.7" cy="337.3" r="3.1"/>
<circle cx="118.9" cy="340.2" r="3.1"/>
<circle cx="119.2" cy="333.1" r="3.1"/>
<circle cx="121.6" cy="340.5" r="3.1"/>
<circle cx="123.2" cy="339.8" r="3.1"/>
<circle cx="115.9" cy="336.4" r="3.1"/>
<circle cx="119.6" cy="341.0" r="3.1"/>
<circle cx="121.5" cy="338.5" r="3.1"/>
<circle cx="119.0" cy="341.7" r="3.1"/>
<circle cx="133.6" cy="275.5" r="3.1"/>
<circle cx="139.5" cy="280.0" r="3.1"/>
<circle cx="144.3" cy="283.8" r="3.1"/>
<circle cx="145.5" cy="288.3" r="3.1"/>
<circle cx="170.8" cy="285.9" r="3.1"/>
<circle cx="152.9" cy="299.6" r="3.1"/>
<circle cx="144.0" cy="301.7" r="3.1"/>
<circle cx="141.9" cy="311.2" r="3.1"/>
<circle cx="139.8" cy="315.1" r="3.1"/>
<circle cx="145.5" cy="318.7" r="3.1"/>
<circle cx="117.5" cy="284.7" r="3.1"/>
<circle cx="121.6" cy="289.8" r="3.1"/>
<circle cx="127.9" cy="286.2" r="3.1"/>
<circle cx="126.1" cy="295.1" r="3.1"/>
<circle cx="107.6" cy="293.4" r="3.1"/>
<circle cx="102.3" cy="296.3" r="3.1"/>
<circle cx="111.2" cy="298.7" r="3.1"/>
<circle cx="118.1" cy="299.6" r="3.1"/>
<circle cx="129.1" cy="304.7" r="3.1"/>
<circle cx="123.1" cy="306.2" r="3.1"/>
<circle cx="84.4" cy="308.3" r="3.1"/>
<circle cx="88.3" cy="306.2" r="3.1"/>
<circle cx="89.8" cy="312.1" r="3.1"/>
<circle cx="124.9" cy="351.7" r="3.1"/>
<circle cx="131.5" cy="352.9" r="3.1"/>
<circle cx="135.9" cy="360.7" r="3.1"/>
<circle cx="141.0" cy="360.7" r="3.1"/>
<circle cx="136.8" cy="334.5" r="3.1"/>
<circle cx="131.5" cy="331.5" r="3.1"/>
<circle cx="115.1" cy="361.3" r="3.1"/>
</g>
<line x1="74.9" y1="376.9" x2="170.8" y2="271.3" stroke="rgb(40,40,40)" stroke-opacity="0.5" stroke-width="1.1" stroke-dasharray="1.6,2.4" stroke-dashoffset="-2.4"/>
<line x1="74.9" y1="376.9" x2="170.8" y2="271.3" stroke="rgb(150,110,20)" stroke-opacity="0.62" stroke-width="1.1" stroke-dasharray="2.4,1.6"/>
<rect x="237.5" y="79.5" width="281" height="184" rx="8" ry="8" fill="#fff" stroke="#707070" stroke-width="1"/>
<text x="245.00" y="93.00" font-size="10" stroke="#252423" stroke-width="0.32" textLength="210.50" lengthAdjust="spacing" fill="#252423">Average of euros per mwh by Year and Month</text>
<line x1="275" y1="103.5" x2="512" y2="103.5" stroke="#e6e6e6" stroke-width="1" stroke-dasharray="1,2.8"/>
<text x="270.20" y="106.10" font-size="8.2" text-anchor="end" textLength="12.04" lengthAdjust="spacingAndGlyphs" fill="#4e4c49">400</text>
<line x1="275" y1="140.5" x2="512" y2="140.5" stroke="#e6e6e6" stroke-width="1" stroke-dasharray="1,2.8"/>
<text x="270.20" y="143.55" font-size="8.2" text-anchor="end" textLength="12.04" lengthAdjust="spacingAndGlyphs" fill="#4e4c49">300</text>
<line x1="275" y1="178.5" x2="512" y2="178.5" stroke="#e6e6e6" stroke-width="1" stroke-dasharray="1,2.8"/>
<text x="270.20" y="181.00" font-size="8.2" text-anchor="end" textLength="12.04" lengthAdjust="spacingAndGlyphs" fill="#4e4c49">200</text>
<line x1="275" y1="215.5" x2="512" y2="215.5" stroke="#e6e6e6" stroke-width="1" stroke-dasharray="1,2.8"/>
<text x="270.20" y="218.45" font-size="8.2" text-anchor="end" textLength="12.04" lengthAdjust="spacingAndGlyphs" fill="#4e4c49">100</text>
<line x1="334.5" y1="104" x2="334.5" y2="236" stroke="#e6e6e6" stroke-width="1" stroke-dasharray="1,2.8"/>
<line x1="396.5" y1="104" x2="396.5" y2="236" stroke="#e6e6e6" stroke-width="1" stroke-dasharray="1,2.8"/>
<line x1="457.5" y1="104" x2="457.5" y2="236" stroke="#e6e6e6" stroke-width="1" stroke-dasharray="1,2.8"/>
<text transform="translate(252.30,169.40) rotate(-90)" x="0" y="0" font-size="9" font-weight="bold" textLength="104.00" lengthAdjust="spacingAndGlyphs" text-anchor="middle" fill="#252423">Average of euros per mwh</text>
<polygon points="281.90,235.70 281.90,211.90 292.23,207.40 302.56,213.90 312.89,207.80 323.22,178.10 333.55,198.30 343.88,214.10 354.21,196.30 364.54,215.70 374.87,196.30 385.20,186.80 395.53,163.80 405.86,118.50 416.19,167.70 426.52,187.80 436.85,169.00 447.18,159.00 457.51,214.50 467.84,210.20 478.17,222.20 488.50,228.10 498.83,227.60 498.83,235.70" fill="#bfdbb2"/>
<polyline points="281.90,211.90 292.23,207.40 302.56,213.90 312.89,207.80 323.22,178.10 333.55,198.30 343.88,214.10 354.21,196.30 364.54,215.70 374.87,196.30 385.20,186.80 395.53,163.80 405.86,118.50 416.19,167.70 426.52,187.80 436.85,169.00 447.18,159.00 457.51,214.50 467.84,210.20 478.17,222.20 488.50,228.10 498.83,227.60" fill="none" stroke="#4e9d2d" stroke-width="1.9" stroke-linejoin="round"/>
<text x="284.55" y="224.30" font-size="8.2" text-anchor="middle" textLength="11.50" lengthAdjust="spacingAndGlyphs" fill="#4e4c49">110</text>
<text x="364.95" y="227.70" font-size="8.2" text-anchor="middle" textLength="12.04" lengthAdjust="spacingAndGlyphs" fill="#4e4c49">100</text>
<text x="406.15" y="113.70" font-size="8.2" text-anchor="middle" textLength="12.04" lengthAdjust="spacingAndGlyphs" fill="#4e4c49">360</text>
<text x="426.90" y="199.40" font-size="8.2" text-anchor="middle" textLength="12.04" lengthAdjust="spacingAndGlyphs" fill="#4e4c49">174</text>
<text x="447.25" y="154.20" font-size="8.2" text-anchor="middle" textLength="12.04" lengthAdjust="spacingAndGlyphs" fill="#4e4c49">251</text>
<text x="477.30" y="232.10" font-size="8.2" text-anchor="middle" textLength="8.03" lengthAdjust="spacingAndGlyphs" fill="#4e4c49">66</text>
<text x="498.40" y="223.10" font-size="8.2" text-anchor="middle" textLength="8.03" lengthAdjust="spacingAndGlyphs" fill="#4e4c49">67</text>
<text x="334.50" y="244.90" font-size="8.2" text-anchor="middle" textLength="28.30" lengthAdjust="spacingAndGlyphs" fill="#4e4c49">Jan 2022</text>
<text x="395.50" y="244.90" font-size="8.2" text-anchor="middle" textLength="27.20" lengthAdjust="spacingAndGlyphs" fill="#4e4c49">Jul 2022</text>
<text x="457.70" y="244.90" font-size="8.2" text-anchor="middle" textLength="28.90" lengthAdjust="spacingAndGlyphs" fill="#4e4c49">Jan 2023</text>
<text x="381.90" y="255.70" font-size="9.4" font-weight="bold" textLength="17.10" lengthAdjust="spacingAndGlyphs" fill="#252423">Year</text>
<rect x="525.5" y="79.5" width="275" height="185" rx="8" ry="8" fill="#fff" stroke="#707070" stroke-width="1"/>
<text x="533.10" y="93.20" font-size="10" stroke="#252423" stroke-width="0.32" textLength="243.00" lengthAdjust="spacing" fill="#252423">Average of euros per mwh by Day Name and Time of</text>
<text x="533.10" y="104.80" font-size="10" stroke="#252423" stroke-width="0.32" textLength="16.90" lengthAdjust="spacingAndGlyphs" fill="#252423">Day</text>
<text x="532.80" y="121.80" font-size="8" font-weight="bold" textLength="41.60" lengthAdjust="spacingAndGlyphs" fill="#4e4c49">Time of Day</text>
<circle cx="583.3" cy="119.2" r="2.9" fill="#5ba33b"/>
<text x="586.90" y="121.80" font-size="8" textLength="33.50" lengthAdjust="spacingAndGlyphs" fill="#4e4c49">Afternoon</text>
<circle cx="627.6" cy="119.2" r="2.9" fill="#2e3a6c"/>
<text x="631.50" y="121.80" font-size="8" textLength="25.70" lengthAdjust="spacingAndGlyphs" fill="#4e4c49">Evening</text>
<circle cx="664.6" cy="119.2" r="2.9" fill="#ab8c23"/>
<text x="668.70" y="121.80" font-size="8" textLength="27.60" lengthAdjust="spacingAndGlyphs" fill="#4e4c49">Morning</text>
<circle cx="703.7" cy="119.2" r="2.9" fill="#7e1d24"/>
<text x="707.40" y="121.80" font-size="8" textLength="18.60" lengthAdjust="spacingAndGlyphs" fill="#4e4c49">Night</text>
<line x1="639.5" y1="131" x2="639.5" y2="236" stroke="#e6e6e6" stroke-width="1" stroke-dasharray="1,2.8"/>
<line x1="689.5" y1="131" x2="689.5" y2="236" stroke="#e6e6e6" stroke-width="1" stroke-dasharray="1,2.8"/>
<line x1="738.5" y1="131" x2="738.5" y2="236" stroke="#e6e6e6" stroke-width="1" stroke-dasharray="1,2.8"/>
<line x1="788.5" y1="131" x2="788.5" y2="236" stroke="#e6e6e6" stroke-width="1" stroke-dasharray="1,2.8"/>
<text x="585.00" y="145.65" font-size="8" text-anchor="end" textLength="27.04" lengthAdjust="spacingAndGlyphs" fill="#4e4c49">Tuesday</text>
<rect x="590.10" y="137.30" width="48.61" height="11.5" fill="#5ba33b"/>
<text x="614.00" y="146.65" font-size="7.8" font-weight="bold" text-anchor="middle" textLength="11.97" lengthAdjust="spacingAndGlyphs" fill="#ffffff">193</text>
<rect x="637.91" y="137.30" width="56.28" height="11.5" fill="#2e3a6c"/>
<text x="665.65" y="146.65" font-size="7.8" font-weight="bold" text-anchor="middle" textLength="11.97" lengthAdjust="spacingAndGlyphs" fill="#ffffff">224</text>
<rect x="693.39" y="137.30" width="52.07" height="11.5" fill="#ab8c23"/>
<text x="719.03" y="146.65" font-size="7.8" font-weight="bold" text-anchor="middle" textLength="11.97" lengthAdjust="spacingAndGlyphs" fill="#ffffff">207</text>
<rect x="744.66" y="137.30" width="30.96" height="11.5" fill="#7e1d24"/>
<text x="760.15" y="146.65" font-size="7.8" font-weight="bold" text-anchor="middle" textLength="11.97" lengthAdjust="spacingAndGlyphs" fill="#ffffff">125</text>
<text x="585.00" y="159.65" font-size="8" text-anchor="end" textLength="25.33" lengthAdjust="spacingAndGlyphs" fill="#4e4c49">Monday</text>
<rect x="590.10" y="151.30" width="47.12" height="11.5" fill="#5ba33b"/>
<text x="613.26" y="160.65" font-size="7.8" font-weight="bold" text-anchor="middle" textLength="11.97" lengthAdjust="spacingAndGlyphs" fill="#ffffff">187</text>
<rect x="636.42" y="151.30" width="56.04" height="11.5" fill="#2e3a6c"/>
<text x="664.04" y="160.65" font-size="7.8" font-weight="bold" text-anchor="middle" textLength="11.97" lengthAdjust="spacingAndGlyphs" fill="#ffffff">223</text>
<rect x="691.66" y="151.30" width="51.83" height="11.5" fill="#ab8c23"/>
<text x="717.17" y="160.65" font-size="7.8" font-weight="bold" text-anchor="middle" textLength="11.97" lengthAdjust="spacingAndGlyphs" fill="#ffffff">206</text>
<rect x="742.68" y="151.30" width="30.47" height="11.5" fill="#7e1d24"/>
<text x="757.92" y="160.65" font-size="7.8" font-weight="bold" text-anchor="middle" textLength="11.97" lengthAdjust="spacingAndGlyphs" fill="#ffffff">123</text>
<text x="585.00" y="173.65" font-size="8" text-anchor="end" textLength="24.15" lengthAdjust="spacingAndGlyphs" fill="#4e4c49">Sunday</text>
<rect x="590.10" y="165.30" width="48.11" height="11.5" fill="#5ba33b"/>
<text x="613.76" y="174.65" font-size="7.8" font-weight="bold" text-anchor="middle" textLength="11.97" lengthAdjust="spacingAndGlyphs" fill="#ffffff">191</text>
<rect x="637.41" y="165.30" width="53.06" height="11.5" fill="#2e3a6c"/>
<text x="663.54" y="174.65" font-size="7.8" font-weight="bold" text-anchor="middle" textLength="11.58" lengthAdjust="spacingAndGlyphs" fill="#ffffff">211</text>
<rect x="689.68" y="165.30" width="51.58" height="11.5" fill="#ab8c23"/>
<text x="715.06" y="174.65" font-size="7.8" font-weight="bold" text-anchor="middle" textLength="11.97" lengthAdjust="spacingAndGlyphs" fill="#ffffff">205</text>
<rect x="740.45" y="165.30" width="27.25" height="11.5" fill="#7e1d24"/>
<text x="754.08" y="174.65" font-size="7.8" font-weight="bold" text-anchor="middle" textLength="11.58" lengthAdjust="spacingAndGlyphs" fill="#ffffff">110</text>
<text x="585.00" y="187.65" font-size="8" text-anchor="end" textLength="37.47" lengthAdjust="spacingAndGlyphs" fill="#4e4c49">Wednesday</text>
<rect x="590.10" y="179.30" width="43.65" height="11.5" fill="#5ba33b"/>
<text x="611.53" y="188.65" font-size="7.8" font-weight="bold" text-anchor="middle" textLength="11.97" lengthAdjust="spacingAndGlyphs" fill="#ffffff">173</text>
<rect x="632.95" y="179.30" width="53.56" height="11.5" fill="#2e3a6c"/>
<text x="659.33" y="188.65" font-size="7.8" font-weight="bold" text-anchor="middle" textLength="11.97" lengthAdjust="spacingAndGlyphs" fill="#ffffff">213</text>
<rect x="685.71" y="179.30" width="48.85" height="11.5" fill="#ab8c23"/>
<text x="709.74" y="188.65" font-size="7.8" font-weight="bold" text-anchor="middle" textLength="11.97" lengthAdjust="spacingAndGlyphs" fill="#ffffff">194</text>
<rect x="733.77" y="179.30" width="28.73" height="11.5" fill="#7e1d24"/>
<text x="748.13" y="188.65" font-size="7.8" font-weight="bold" text-anchor="middle" textLength="11.58" lengthAdjust="spacingAndGlyphs" fill="#ffffff">116</text>
<text x="585.00" y="201.65" font-size="8" text-anchor="end" textLength="29.68" lengthAdjust="spacingAndGlyphs" fill="#4e4c49">Thursday</text>
<rect x="590.10" y="193.30" width="42.17" height="11.5" fill="#5ba33b"/>
<text x="610.78" y="202.65" font-size="7.8" font-weight="bold" text-anchor="middle" textLength="11.97" lengthAdjust="spacingAndGlyphs" fill="#ffffff">167</text>
<rect x="631.47" y="193.30" width="48.61" height="11.5" fill="#2e3a6c"/>
<text x="655.37" y="202.65" font-size="7.8" font-weight="bold" text-anchor="middle" textLength="11.97" lengthAdjust="spacingAndGlyphs" fill="#ffffff">193</text>
<rect x="679.27" y="193.30" width="47.62" height="11.5" fill="#ab8c23"/>
<text x="702.68" y="202.65" font-size="7.8" font-weight="bold" text-anchor="middle" textLength="11.97" lengthAdjust="spacingAndGlyphs" fill="#ffffff">189</text>
<rect x="726.09" y="193.30" width="27.99" height="11.5" fill="#7e1d24"/>
<text x="740.08" y="202.65" font-size="7.8" font-weight="bold" text-anchor="middle" textLength="11.58" lengthAdjust="spacingAndGlyphs" fill="#ffffff">113</text>
<text x="585.00" y="215.65" font-size="8" text-anchor="end" textLength="19.78" lengthAdjust="spacingAndGlyphs" fill="#4e4c49">Friday</text>
<rect x="590.10" y="207.30" width="30.52" height="11.5" fill="#5ba33b"/>
<text x="604.96" y="216.65" font-size="7.8" font-weight="bold" text-anchor="middle" textLength="11.97" lengthAdjust="spacingAndGlyphs" fill="#ffffff">120</text>
<rect x="619.82" y="207.30" width="42.91" height="11.5" fill="#2e3a6c"/>
<text x="640.88" y="216.65" font-size="7.8" font-weight="bold" text-anchor="middle" textLength="11.97" lengthAdjust="spacingAndGlyphs" fill="#ffffff">170</text>
<rect x="661.93" y="207.30" width="31.76" height="11.5" fill="#ab8c23"/>
<text x="677.41" y="216.65" font-size="7.8" font-weight="bold" text-anchor="middle" textLength="11.97" lengthAdjust="spacingAndGlyphs" fill="#ffffff">125</text>
<rect x="692.90" y="207.30" width="28.73" height="11.5" fill="#7e1d24"/>
<text x="707.26" y="216.65" font-size="7.8" font-weight="bold" text-anchor="middle" textLength="11.58" lengthAdjust="spacingAndGlyphs" fill="#ffffff">116</text>
<text x="585.00" y="229.65" font-size="8" text-anchor="end" textLength="28.50" lengthAdjust="spacingAndGlyphs" fill="#4e4c49">Saturday</text>
<rect x="590.10" y="221.30" width="27.30" height="11.5" fill="#5ba33b"/>
<text x="603.35" y="230.65" font-size="7.8" font-weight="bold" text-anchor="middle" textLength="11.97" lengthAdjust="spacingAndGlyphs" fill="#ffffff">107</text>
<rect x="616.60" y="221.30" width="42.66" height="11.5" fill="#2e3a6c"/>
<text x="637.53" y="230.65" font-size="7.8" font-weight="bold" text-anchor="middle" textLength="11.97" lengthAdjust="spacingAndGlyphs" fill="#ffffff">169</text>
<rect x="658.47" y="221.30" width="26.07" height="11.5" fill="#ab8c23"/>
<text x="671.10" y="230.65" font-size="7.8" font-weight="bold" text-anchor="middle" textLength="11.97" lengthAdjust="spacingAndGlyphs" fill="#ffffff">102</text>
<rect x="683.73" y="221.30" width="26.75" height="11.5" fill="#7e1d24"/>
<text x="697.11" y="230.65" font-size="7.8" font-weight="bold" text-anchor="middle" textLength="11.97" lengthAdjust="spacingAndGlyphs" fill="#ffffff">108</text>
<text x="590.10" y="248.00" font-size="8.2" text-anchor="middle" textLength="4.01" lengthAdjust="spacingAndGlyphs" fill="#4e4c49">0</text>
<text x="639.64" y="248.00" font-size="8.2" text-anchor="middle" textLength="12.04" lengthAdjust="spacingAndGlyphs" fill="#4e4c49">200</text>
<text x="689.18" y="248.00" font-size="8.2" text-anchor="middle" textLength="12.04" lengthAdjust="spacingAndGlyphs" fill="#4e4c49">400</text>
<text x="738.72" y="248.00" font-size="8.2" text-anchor="middle" textLength="12.04" lengthAdjust="spacingAndGlyphs" fill="#4e4c49">600</text>
<text x="788.26" y="248.00" font-size="8.2" text-anchor="middle" textLength="12.04" lengthAdjust="spacingAndGlyphs" fill="#4e4c49">800</text>
<text x="689.50" y="258.40" font-size="7" font-weight="bold" text-anchor="middle" textLength="79.00" lengthAdjust="spacingAndGlyphs" fill="#252423">Average of euros per mwh</text>
<text transform="translate(537.90,185.50) rotate(-90)" x="0" y="0" font-size="7" font-weight="bold" textLength="31.00" lengthAdjust="spacingAndGlyphs" text-anchor="middle" fill="#252423">Day Name</text>
<rect x="237.5" y="273.5" width="281" height="182" rx="8" ry="8" fill="#fff" stroke="#707070" stroke-width="1"/>
<g opacity="0.55" fill="#cccccc" stroke="#cccccc">
<path d="M363,427 C361,433 362,440 369,440.5 L455,440.5" fill="none" stroke-width="5" stroke-linecap="round"/>
<path d="M377.5,417 L377.5,438" fill="none" stroke-width="5" stroke-linecap="round"/>
<path d="M387,438 C385,430 388,424 393,424 C398,424 400,430 398,438" fill="none" stroke-width="4.5"/>
<path d="M405,438 L405,430 M420,438 L420,430 M428,438 L428,430 M436,438 L436,430" fill="none" stroke-width="4.5" stroke-linecap="round"/>
<circle cx="451" cy="433" r="6.5" fill="none" stroke-width="5"/>
<circle cx="389.5" cy="418.5" r="2.8" stroke="none"/><circle cx="397.5" cy="418.5" r="2.8" stroke="none"/>
<circle cx="409" cy="425.2" r="2.8" stroke="none"/><circle cx="416.5" cy="425.2" r="2.8" stroke="none"/>
<text x="361.4" y="458" font-size="15.5" font-weight="bold" stroke="none" textLength="99" lengthAdjust="spacingAndGlyphs">mostaql.com</text>
</g>
<text x="245.00" y="285.80" font-size="10" stroke="#252423" stroke-width="0.32" textLength="261.70" lengthAdjust="spacing" fill="#252423">Average of highest price per mwh and Average of lowest</text>
<text x="245.00" y="297.50" font-size="10" stroke="#252423" stroke-width="0.32" textLength="155.30" lengthAdjust="spacing" fill="#252423">price per mwh by Year and Month</text>
<circle cx="247.9" cy="312.1" r="2.9" fill="#5ba33b"/>
<text x="251.90" y="314.80" font-size="8" textLength="111.60" lengthAdjust="spacingAndGlyphs" fill="#4e4c49">Average of highest price per mwh</text>
<circle cx="370.4" cy="312.1" r="2.9" fill="#2e3a6c"/>
<text x="374.40" y="314.80" font-size="8" textLength="108.60" lengthAdjust="spacingAndGlyphs" fill="#4e4c49">Average of lowest price per mwh</text>
<line x1="273.7" y1="347.5" x2="487" y2="347.5" stroke="#e6e6e6" stroke-width="1" stroke-dasharray="1,2.8"/>
<text x="267.80" y="350.60" font-size="8.2" text-anchor="end" textLength="12.04" lengthAdjust="spacingAndGlyphs" fill="#4e4c49">200</text>
<text x="490.20" y="350.60" font-size="8.2" textLength="12.04" lengthAdjust="spacingAndGlyphs" fill="#4e4c49">200</text>
<line x1="273.7" y1="388.5" x2="487" y2="388.5" stroke="#e6e6e6" stroke-width="1" stroke-dasharray="1,2.8"/>
<text x="267.80" y="391.30" font-size="8.2" text-anchor="end" textLength="12.04" lengthAdjust="spacingAndGlyphs" fill="#4e4c49">100</text>
<text x="490.20" y="391.30" font-size="8.2" textLength="12.04" lengthAdjust="spacingAndGlyphs" fill="#4e4c49">100</text>
<line x1="273.7" y1="429.5" x2="487" y2="429.5" stroke="#e6e6e6" stroke-width="1" stroke-dasharray="1,2.8"/>
<text x="267.80" y="432.00" font-size="8.2" text-anchor="end" textLength="4.01" lengthAdjust="spacingAndGlyphs" fill="#4e4c49">0</text>
<text x="490.20" y="432.00" font-size="8.2" textLength="4.01" lengthAdjust="spacingAndGlyphs" fill="#4e4c49">0</text>
<line x1="319.5" y1="327" x2="319.5" y2="429" stroke="#e6e6e6" stroke-width="1" stroke-dasharray="1,2.8"/>
<line x1="379.5" y1="327" x2="379.5" y2="429" stroke="#e6e6e6" stroke-width="1" stroke-dasharray="1,2.8"/>
<line x1="438.5" y1="327" x2="438.5" y2="429" stroke="#e6e6e6" stroke-width="1" stroke-dasharray="1,2.8"/>
<text transform="translate(250.04,377.30) rotate(-90)" x="0" y="0" font-size="6.8" font-weight="bold" textLength="100.80" lengthAdjust="spacingAndGlyphs" text-anchor="middle" fill="#252423">Average of highest price per mwh</text>
<text transform="translate(512.84,377.30) rotate(-90)" x="0" y="0" font-size="6.8" font-weight="bold" textLength="98.00" lengthAdjust="spacingAndGlyphs" text-anchor="middle" fill="#252423">Average of lowest price per mwh</text>
<polyline points="280.30,408.50 290.17,401.80 300.04,396.50 309.91,390.40 319.78,390.40 329.65,394.60 339.52,386.40 349.39,381.10 359.26,383.20 369.13,379.50 379.00,353.90 388.87,332.70 398.74,335.30 408.61,367.80 418.48,377.30 428.35,375.20 438.22,398.60 448.09,403.10 457.96,407.70 467.83,407.70 477.70,411.90" fill="none" stroke="#4e9d2d" stroke-width="1.9" stroke-linejoin="round"/>
<polyline points="280.30,409.80 290.17,401.80 300.04,399.10 309.91,393.00 319.78,394.40 329.65,397.30 339.52,393.00 349.39,387.20 359.26,387.70 369.13,385.30 379.00,361.90 388.87,343.30 398.74,346.00 408.61,380.00 418.48,384.00 428.35,382.40 438.22,403.10 448.09,406.30 457.96,409.30 467.83,409.30 477.70,413.80" fill="none" stroke="#2e3a6c" stroke-width="1.9" stroke-linejoin="round"/>
<text x="320.20" y="439.10" font-size="8.2" text-anchor="middle" textLength="29.20" lengthAdjust="spacingAndGlyphs" fill="#4e4c49">Jan 2022</text>
<text x="379.20" y="439.10" font-size="8.2" text-anchor="middle" textLength="27.50" lengthAdjust="spacingAndGlyphs" fill="#4e4c49">Jul 2022</text>
<text x="439.20" y="439.10" font-size="8.2" text-anchor="middle" textLength="29.30" lengthAdjust="spacingAndGlyphs" fill="#4e4c49">Jan 2023</text>
<text x="372.70" y="449.00" font-size="6.8" font-weight="bold" textLength="12.50" lengthAdjust="spacingAndGlyphs" fill="#252423">Year</text>
<rect x="525.5" y="273.5" width="275" height="182" rx="8" ry="8" fill="#fff" stroke="#707070" stroke-width="1"/>
<text x="532.80" y="285.80" font-size="10" stroke="#252423" stroke-width="0.32" textLength="253.10" lengthAdjust="spacing" fill="#252423">Sum of highest price per mwh and Sum of lowest price</text>
<text x="532.80" y="297.50" font-size="10" stroke="#252423" stroke-width="0.32" textLength="91.30" lengthAdjust="spacing" fill="#252423">per mwh by Season</text>
<circle cx="535.7" cy="312.2" r="2.9" fill="#5ba33b"/>
<text x="540.10" y="314.90" font-size="8" textLength="98.70" lengthAdjust="spacingAndGlyphs" fill="#4e4c49">Sum of highest price per mwh</text>
<circle cx="645.9" cy="312.2" r="2.9" fill="#2e3a6c"/>
<text x="650.30" y="314.90" font-size="8" textLength="95.70" lengthAdjust="spacingAndGlyphs" fill="#4e4c49">Sum of lowest price per mwh</text>
<line x1="560" y1="346.5" x2="796" y2="346.5" stroke="#e6e6e6" stroke-width="1" stroke-dasharray="1,2.8"/>
<text x="555.30" y="349.50" font-size="8.2" text-anchor="end" textLength="12.84" lengthAdjust="spacingAndGlyphs" fill="#4e4c49">20K</text>
<line x1="560" y1="367.5" x2="796" y2="367.5" stroke="#e6e6e6" stroke-width="1" stroke-dasharray="1,2.8"/>
<text x="555.30" y="370.23" font-size="8.2" text-anchor="end" textLength="12.84" lengthAdjust="spacingAndGlyphs" fill="#4e4c49">15K</text>
<line x1="560" y1="388.5" x2="796" y2="388.5" stroke="#e6e6e6" stroke-width="1" stroke-dasharray="1,2.8"/>
<text x="555.30" y="390.95" font-size="8.2" text-anchor="end" textLength="12.84" lengthAdjust="spacingAndGlyphs" fill="#4e4c49">10K</text>
<line x1="560" y1="408.5" x2="796" y2="408.5" stroke="#e6e6e6" stroke-width="1" stroke-dasharray="1,2.8"/>
<text x="555.30" y="411.68" font-size="8.2" text-anchor="end" textLength="8.83" lengthAdjust="spacingAndGlyphs" fill="#4e4c49">5K</text>
<line x1="560" y1="429.5" x2="796" y2="429.5" stroke="#e6e6e6" stroke-width="1" stroke-dasharray="1,2.8"/>
<text x="555.30" y="432.40" font-size="8.2" text-anchor="end" textLength="8.83" lengthAdjust="spacingAndGlyphs" fill="#4e4c49">0K</text>
<text transform="translate(538.54,377.30) rotate(-90)" x="0" y="0" font-size="6.8" font-weight="bold" textLength="103.00" lengthAdjust="spacingAndGlyphs" text-anchor="middle" fill="#252423">Sum of highest price per mwh an...</text>
<rect x="581.0" y="341.31" width="20.8" height="88.29" fill="#5ba33b"/>
<rect x="601.30" y="352.50" width="19.6" height="77.10" fill="#2e3a6c"/>
<text x="591.20" y="336.71" font-size="8.2" text-anchor="middle" textLength="18.64" lengthAdjust="spacingAndGlyphs" fill="#4e4c49">21.3K</text>
<text x="611.10" y="347.90" font-size="8.2" text-anchor="middle" textLength="18.64" lengthAdjust="spacingAndGlyphs" fill="#4e4c49">18.6K</text>
<text x="601.30" y="439.30" font-size="8.2" text-anchor="middle" textLength="26.40" lengthAdjust="spacingAndGlyphs" fill="#4e4c49">Autumn</text>
<rect x="632.1" y="361.21" width="20.8" height="68.39" fill="#5ba33b"/>
<rect x="652.40" y="368.67" width="19.6" height="60.93" fill="#2e3a6c"/>
<text x="642.30" y="356.61" font-size="8.2" text-anchor="middle" textLength="18.64" lengthAdjust="spacingAndGlyphs" fill="#4e4c49">16.5K</text>
<text x="662.20" y="364.07" font-size="8.2" text-anchor="middle" textLength="18.64" lengthAdjust="spacingAndGlyphs" fill="#4e4c49">14.7K</text>
<text x="652.40" y="439.30" font-size="8.2" text-anchor="middle" textLength="27.60" lengthAdjust="spacingAndGlyphs" fill="#4e4c49">Summer</text>
<rect x="683.0" y="362.04" width="20.8" height="67.56" fill="#5ba33b"/>
<rect x="703.30" y="369.91" width="19.6" height="59.69" fill="#2e3a6c"/>
<text x="693.20" y="357.44" font-size="8.2" text-anchor="middle" textLength="18.64" lengthAdjust="spacingAndGlyphs" fill="#4e4c49">16.3K</text>
<text x="713.10" y="365.31" font-size="8.2" text-anchor="middle" textLength="18.64" lengthAdjust="spacingAndGlyphs" fill="#4e4c49">14.4K</text>
<text x="703.30" y="439.30" font-size="8.2" text-anchor="middle" textLength="22.10" lengthAdjust="spacingAndGlyphs" fill="#4e4c49">Winter</text>
<rect x="734.2" y="369.50" width="20.8" height="60.10" fill="#5ba33b"/>
<rect x="754.50" y="376.54" width="19.6" height="53.06" fill="#2e3a6c"/>
<text x="744.40" y="364.90" font-size="8.2" text-anchor="middle" textLength="18.64" lengthAdjust="spacingAndGlyphs" fill="#4e4c49">14.5K</text>
<text x="764.30" y="371.94" font-size="8.2" text-anchor="middle" textLength="18.64" lengthAdjust="spacingAndGlyphs" fill="#4e4c49">12.8K</text>
<text x="754.50" y="439.30" font-size="8.2" text-anchor="middle" textLength="21.00" lengthAdjust="spacingAndGlyphs" fill="#4e4c49">Spring</text>
<text x="668.00" y="449.00" font-size="7" font-weight="bold" textLength="21.30" lengthAdjust="spacingAndGlyphs" fill="#252423">Season</text>
</svg>
</body></html>
